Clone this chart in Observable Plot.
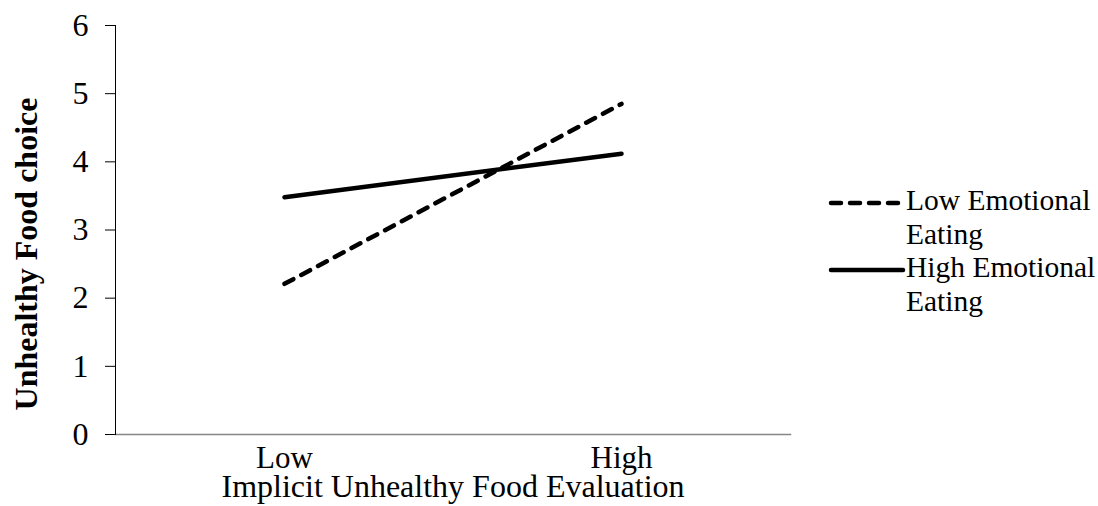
<!DOCTYPE html>
<html>
<head>
<meta charset="utf-8">
<script src="https://cdn.jsdelivr.net/npm/d3@7"></script>
<script src="https://cdn.jsdelivr.net/npm/@observablehq/plot@0.6"></script>
<style>
  html, body { margin: 0; padding: 0; background: #fff; }
  #wrap { position: relative; width: 1098px; height: 506px; font-family: "Liberation Serif", "Times New Roman", serif; }
  #legend { position: absolute; left: 828px; top: 184px; font-size: 29.5px; line-height: 33.5px; color: #000; white-space: nowrap; }
  .item { display: flex; align-items: flex-start; }
  .item svg { flex: none; margin-top: 2px; }
</style>
</head>
<body>
<div id="wrap"></div>
<script>
const levels = ["Low", "High"];
const seriesNames = ["Low Emotional Eating", "High Emotional Eating"];
const lowEmotional = [2.21, 4.85];
const highEmotional = [3.48, 4.12];
const yTicks = [0, 1, 2, 3, 4, 5, 6];
const xTitle = "Implicit Unhealthy Food Evaluation";
const yTitle = "Unhealthy Food choice";

const rowsLow = levels.map((lv, i) => ({series: seriesNames[0], level: lv, value: lowEmotional[i]}));
const rowsHigh = levels.map((lv, i) => ({series: seriesNames[1], level: lv, value: highEmotional[i]}));

const chart = Plot.plot({
  width: 1098,
  height: 506,
  marginLeft: 115,
  marginRight: 308,
  marginTop: 25,
  marginBottom: 72,
  style: {fontFamily: "Liberation Serif, Times New Roman, serif", fontSize: "27px", color: "#000", background: "#fff"},
  x: {type: "point", domain: levels, padding: 0.5},
  y: {domain: [0, 6]},
  marks: [
    Plot.axisY({ticks: yTicks, tickFormat: "d", tickSize: 10, tickPadding: 17, fontSize: 32, label: null, stroke: "#000", strokeOpacity: 1}),
    Plot.axisX({tickSize: 0, tickPadding: 11, fontSize: 31, label: null}),
    Plot.frame({anchor: "bottom", stroke: "#868686", strokeWidth: 1.5}),
    Plot.frame({anchor: "left", stroke: "#000", strokeWidth: 1}),
    Plot.text([xTitle], {frameAnchor: "bottom", dy: 62, fontSize: 32, fill: "#000"}),
    Plot.text([yTitle], {frameAnchor: "left", textAnchor: "middle", rotate: -90, dx: -89, dy: 24, fontSize: 32, fontWeight: "bold", fill: "#000"}),
    Plot.line(rowsLow, {x: "level", y: "value", stroke: "#000", strokeWidth: 4.5, strokeDasharray: "10,9", strokeLinecap: "round"}),
    Plot.line(rowsHigh, {x: "level", y: "value", stroke: "#000", strokeWidth: 4.5, strokeLinecap: "round"})
  ]
});

const wrap = document.getElementById("wrap");
wrap.appendChild(chart);

const legend = document.createElement("div");
legend.id = "legend";
const styles = [{dash: "10,9"}, {dash: null}];
seriesNames.forEach((name, i) => {
  const words = name.split(" ");
  const item = document.createElement("div");
  item.className = "item";
  const dash = styles[i].dash ? `stroke-dasharray="${styles[i].dash}"` : "";
  item.innerHTML = `<svg width="78" height="34"><line x1="3" y1="17" x2="75" y2="17" stroke="#000" stroke-width="4.5" stroke-linecap="round" ${dash}/></svg><div>${words.slice(0, 2).join(" ")}<br>${words.slice(2).join(" ")}</div>`;
  legend.appendChild(item);
});
wrap.appendChild(legend);
</script>
</body>
</html>
